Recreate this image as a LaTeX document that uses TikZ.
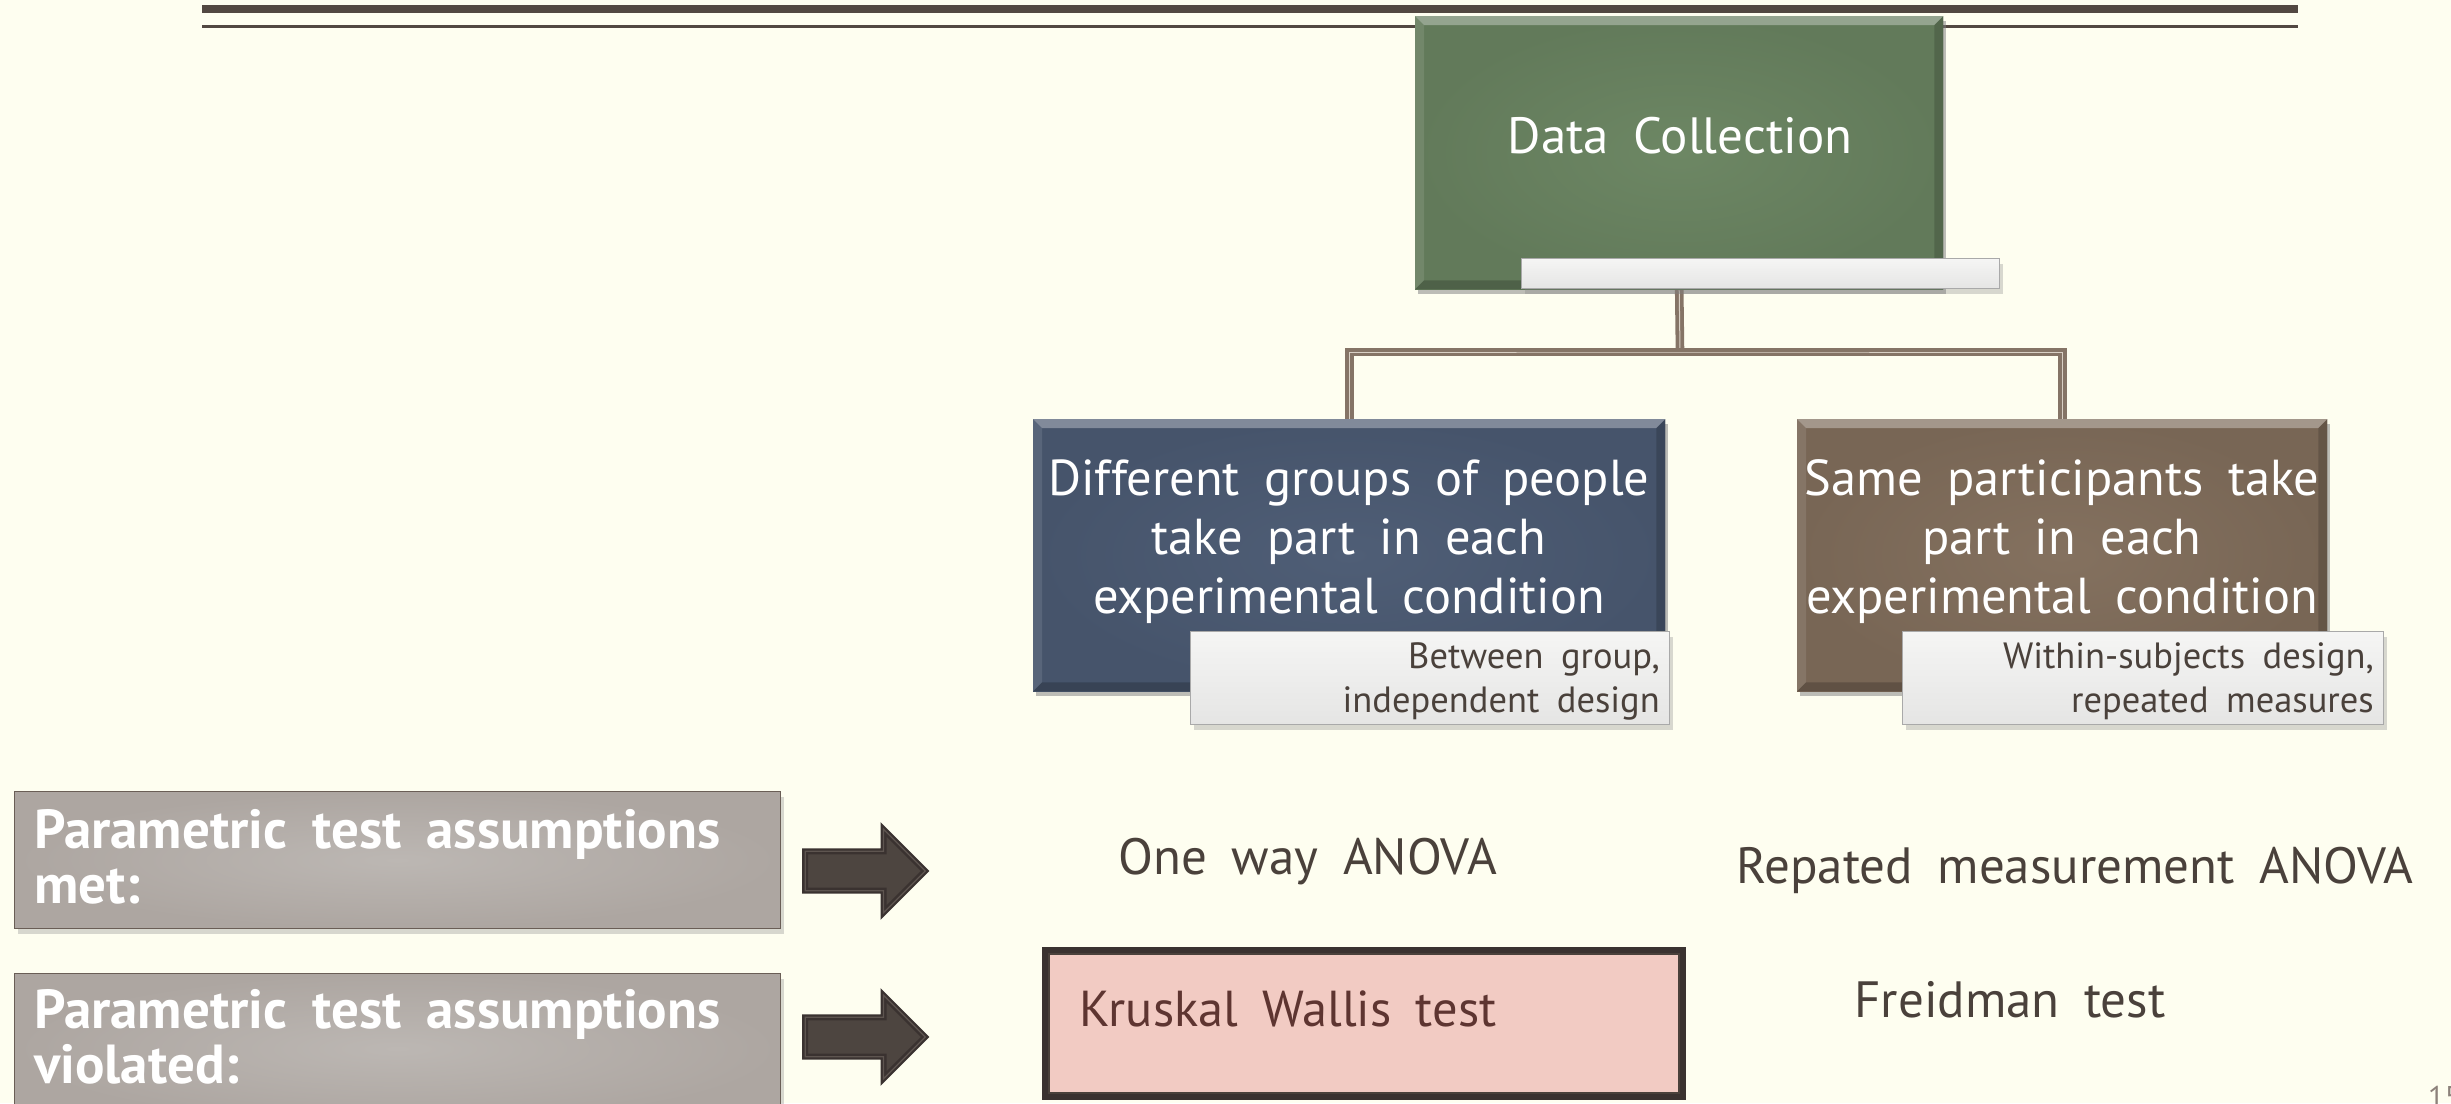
\documentclass[tikz,border=0pt]{standalone}
\usepackage{fontspec}
\setmainfont[WordSpace=1.8]{PT Sans}
\usetikzlibrary{shadows,shapes.arrows}

\definecolor{paper}{HTML}{FEFEF0}
\definecolor{ink}{HTML}{4A413B}
\definecolor{rulecol}{HTML}{524841}
\definecolor{sagein}{HTML}{6D8764}
\definecolor{sageout}{HTML}{627A5A}
\definecolor{slatein}{HTML}{4F5E76}
\definecolor{slateout}{HTML}{46546B}
\definecolor{mochain}{HTML}{84715F}
\definecolor{mochaout}{HTML}{786655}
\definecolor{stonein}{HTML}{BCB7B3}
\definecolor{stoneout}{HTML}{ADA6A1}
\definecolor{stoneedge}{HTML}{6A5E56}
\definecolor{wire}{HTML}{857466}
\definecolor{wirelight}{HTML}{D9D0C5}
\definecolor{blush}{HTML}{F2CBC3}
\definecolor{wine}{HTML}{5E3531}
\definecolor{arrowfill}{HTML}{4D4540}
\definecolor{arrowedge}{HTML}{3A3230}
\definecolor{arrowmid}{HTML}{5E5550}
\definecolor{tagedge}{HTML}{A9A9A9}
\definecolor{tagtop}{HTML}{F5F5F4}
\definecolor{tagbot}{HTML}{E5E5E4}
\definecolor{folio}{HTML}{8C817A}

% light top / dark bottom edges of a raised tile
\newcommand\tilebevel[1]{%
  \fill[white,opacity=0.32] (#1.north west) -- (#1.north east) -- ([xshift=-9pt,yshift=-9pt]#1.north east) -- ([xshift=9pt,yshift=-9pt]#1.north west) -- cycle;
  \fill[white,opacity=0.10] (#1.north west) -- ([xshift=9pt,yshift=-9pt]#1.north west) -- ([xshift=9pt,yshift=9pt]#1.south west) -- (#1.south west) -- cycle;
  \fill[black,opacity=0.16] (#1.north east) -- (#1.south east) -- ([xshift=-9pt,yshift=9pt]#1.south east) -- ([xshift=-9pt,yshift=-9pt]#1.north east) -- cycle;
  \fill[black,opacity=0.20] (#1.south west) -- (#1.south east) -- ([xshift=-9pt,yshift=9pt]#1.south east) -- ([xshift=9pt,yshift=9pt]#1.south west) -- cycle;
}

\tikzset{
  softshadow/.style={drop shadow={shadow xshift=3pt, shadow yshift=-5pt, opacity=0.30}},
  tile/.style={anchor=north west, inner sep=0pt, shading=radial, softshadow},
  tag/.style={anchor=north west, inner sep=0pt, draw=tagedge, line width=1.2pt,
    top color=tagtop, bottom color=tagbot, softshadow},
  tagtext/.style={anchor=base east, inner sep=0pt, text=ink, align=right,
    font=\fontsize{36.5}{44}\selectfont},
  tiletext/.style={inner sep=0pt, text=white, align=center,
    font=\fontsize{50.5}{59}\selectfont},
  plate/.style={anchor=north west, inner sep=0pt, draw=stoneedge, line width=1.2pt,
    shading=radial, inner color=stonein, outer color=stoneout, softshadow},
  platetext/.style={anchor=base west, inner sep=0pt, text=white, align=left,
    font=\bfseries\fontsize{55}{55}\selectfont},
  wireline/.style={draw=wire, line width=3.8pt, double=wirelight, double distance=1pt},
  blockarrow/.style={single arrow, anchor=tail, draw=arrowedge, line width=2.4pt,
    double=arrowmid, double distance=1.2pt, fill=arrowfill, inner xsep=0pt, inner ysep=18.5pt,
    minimum width=81pt, minimum height=120pt, single arrow head extend=22pt,
    line join=miter},
  result/.style={anchor=base, inner sep=0pt, text=ink, font=\fontsize{51}{60}\selectfont},
}

\begin{document}
\begin{tikzpicture}[x=1pt,y=-1pt]
\useasboundingbox (0,0) rectangle (2451,1103);
\fill[paper] (0,0) rectangle (2451,1103);

% title rules
\coordinate (ruleA) at (202,9);
\coordinate (ruleB) at (2298,9);
\coordinate (ruleC) at (202,26.5);
\coordinate (ruleD) at (2298,26.5);
\draw[rulecol, line width=8pt] (ruleA) -- (ruleB);
\draw[rulecol, line width=3pt] (ruleC) -- (ruleD);

% tiles of the hierarchy
\node[tile, inner color=sagein, outer color=sageout, minimum width=528pt, minimum height=273pt] (dc) at (1415,16) {};
\node[tile, inner color=slatein, outer color=slateout, minimum width=632pt, minimum height=272pt] (between) at (1033,419) {};
\node[tile, inner color=mochain, outer color=mochaout, minimum width=530pt, minimum height=272pt] (within) at (1797,419) {};

% connectors
\coordinate (hub) at (1680,352);
\draw[wireline] (dc.south) -- (hub);
\draw[wireline] (between.north) |- (hub) -| (within.north);

% redraw tiles above the connector ends
\node[tile, inner color=sagein, outer color=sageout, minimum width=528pt, minimum height=273pt] at (1415,16) {};
\tilebevel{dc}
\node[tile, inner color=slatein, outer color=slateout, minimum width=632pt, minimum height=272pt] at (1033,419) {};
\tilebevel{between}
\node[tile, inner color=mochain, outer color=mochaout, minimum width=530pt, minimum height=272pt] at (1797,419) {};
\tilebevel{within}

\node[tag, minimum width=478pt, minimum height=30pt] (dcbar) at (1521,258) {};
\node[tag, minimum width=479pt, minimum height=93pt] (betweentag) at (1190,631) {};
\node[tag, minimum width=481pt, minimum height=93pt] (withintag) at (1902,631) {};

\node[tiletext, font=\fontsize{51}{60}\selectfont, anchor=base] (dctext) at (1680,153) {Data Collection};
\node[tiletext, anchor=base] (betweentext) at (1349,613) {Different groups of people\\take part in each\\experimental condition};
\node[tiletext, anchor=base] (withintext) at (2062,613) {Same participants take\\part in each\\experimental condition};

\node[tagtext] (betweennote) at (1660,712) {Between group,\\independent design};
\node[tagtext] (withinnote) at (2374,712) {Within-subjects design,\\repeated measures};

% assumption plates and arrows
\node[plate, minimum width=766pt, minimum height=137pt] (met) at (14,791) {};
\node[plate, minimum width=766pt, minimum height=150pt] (violated) at (14,973) {};
\node[platetext] (mettext) at (34,903) {Parametric test assumptions\\met:};
\node[platetext] (violatedtext) at (34,1083) {Parametric test assumptions\\violated:};

\node[blockarrow] (arrowmet) at (804,871) {};
\node[blockarrow] (arrowviolated) at (804,1037) {};

% tests
\node[result] (oneway) at (1308,874) {One way ANOVA};
\node[result] (repeated) at (2075,883) {Repated measurement ANOVA};
\node[result] (freidman) at (2010,1017) {Freidman test};

\node[anchor=north west, inner sep=0pt, draw=arrowedge, line width=6pt, fill=blush,
  minimum width=638pt, minimum height=147pt] (kruskal) at (1042,947) {};
\draw[draw=ink, line width=2pt] ([xshift=7pt,yshift=-7pt]kruskal.north west) rectangle ([xshift=-7pt,yshift=7pt]kruskal.south east);
\node[anchor=base west, inner sep=0pt, text=wine, font=\fontsize{50.5}{60}\selectfont] (kruskaltext) at (1079,1026) {Kruskal Wallis test};

% slide number
\node[anchor=north west, inner sep=0pt, text=folio, font=\fontsize{30}{36}\selectfont] (folio) at (2428,1086) {15};
\end{tikzpicture}
\end{document}
